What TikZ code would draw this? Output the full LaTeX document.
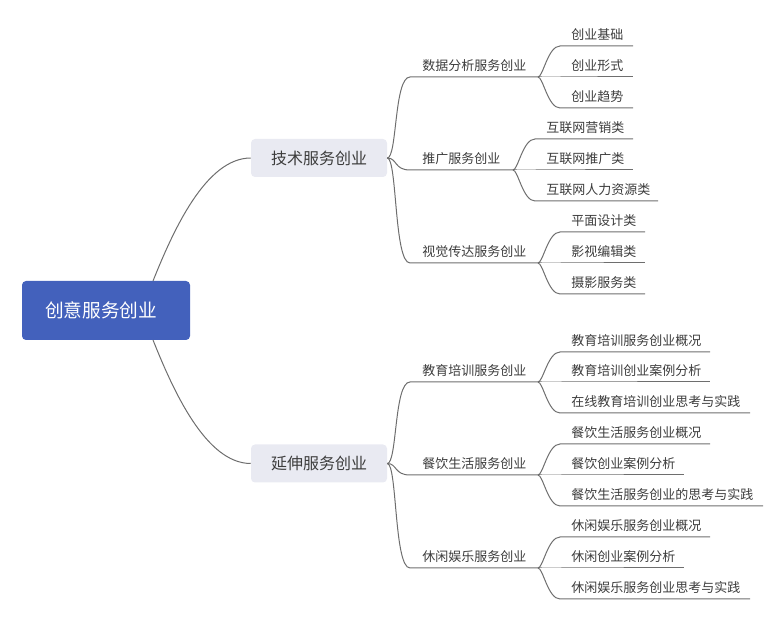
\documentclass[tikz,border=0pt]{standalone}
\usepackage{fontspec}
\newfontfamily\cjk{Noto Sans CJK SC}
\definecolor{linec}{HTML}{6E6E6E}
\definecolor{textc}{HTML}{3C3C3C}
\definecolor{rootc}{HTML}{4361BC}
\definecolor{boxc}{HTML}{E9EAF2}
\tikzset{
  conn/.style={draw=linec, line width=0.75pt},
  mmtext/.style={font=\cjk\fontsize{9.75pt}{11pt}\selectfont, text=textc, inner sep=0pt, anchor=west},
  rootbox/.style={fill=rootc, rounded corners=3pt, minimum width=126pt, minimum height=44.25pt,
    text=white, font=\cjk\fontsize{14pt}{16pt}\selectfont, inner sep=0pt},
  lonebox/.style={fill=boxc, rounded corners=3pt, minimum width=102pt, minimum height=28.5pt,
    text=textc, font=\cjk\fontsize{12pt}{14pt}\selectfont, inner sep=0pt},
}
% #1 name, #2 junction, #3 start x, #4 underline y, #5 end x, #6 text
\newcommand\mmtwo[6]{%
  \coordinate (#1-s) at (#3,#4);
  \coordinate (#1-e) at (#5,#4);
  \node[mmtext] (#1) at (#3+12,#4-11) {#6};
  \draw[conn] (#2) .. controls +(10,0) and +(-16,0) .. (#1-s) -- (#1-e);
}
\newcommand\mmthree[6]{%
  \coordinate (#1-s) at (#3,#4);
  \coordinate (#1-e) at (#5,#4);
  \node[mmtext] (#1) at (#3+11,#4-11) {#6};
  \draw[conn] (#2) .. controls +(5,0) and +(-12,0) .. (#1-s) -- (#1-e);
}
\begin{document}
\begin{tikzpicture}[x=0.75pt,y=-0.75pt]
\useasboundingbox (0,0) rectangle (783,620);
\node[rootbox] (root) at (106,310.5) {\hspace*{-7pt}创意服务创业};
\node[lonebox] (t1) at (319,158) {技术服务创业};
\node[lonebox] (t2) at (319,463.5) {延伸服务创业};
\coordinate (r1) at (153,281);
\coordinate (r2) at (153,340);
\draw[conn] (r1) .. controls +(20,-50) and +(-45,0) .. (t1.west);
\draw[conn] (r2) .. controls +(20,50) and +(-45,0) .. (t2.west);

% level 2 (upper)
\mmtwo{a1}{t1.east}{410}{77}{538}{数据分析服务创业}
\mmtwo{a2}{t1.east}{410}{170}{513}{推广服务创业}
\mmtwo{a3}{t1.east}{410}{263}{538}{视觉传达服务创业}
% level 2 (lower)
\mmtwo{b1}{t2.east}{410}{382}{538}{教育培训服务创业}
\mmtwo{b2}{t2.east}{410}{475}{538}{餐饮生活服务创业}
\mmtwo{b3}{t2.east}{410}{568}{538}{休闲娱乐服务创业}

% level 3
\mmthree{a11}{a1-e}{560}{46}{633}{创业基础}
\mmthree{a12}{a1-e}{560}{77}{633}{创业形式}
\mmthree{a13}{a1-e}{560}{108}{633}{创业趋势}
\mmthree{a21}{a2-e}{535}{139}{633}{互联网营销类}
\mmthree{a22}{a2-e}{535}{170}{633}{互联网推广类}
\mmthree{a23}{a2-e}{535}{201}{658}{互联网人力资源类}
\mmthree{a31}{a3-e}{560}{232}{645}{平面设计类}
\mmthree{a32}{a3-e}{560}{263}{645}{影视编辑类}
\mmthree{a33}{a3-e}{560}{294}{645}{摄影服务类}

\mmthree{b11}{b1-e}{560}{352}{710}{教育培训服务创业概况}
\mmthree{b12}{b1-e}{560}{382}{710}{教育培训创业案例分析}
\mmthree{b13}{b1-e}{560}{413}{750}{在线教育培训创业思考与实践}
\mmthree{b21}{b2-e}{560}{444}{710}{餐饮生活服务创业概况}
\mmthree{b22}{b2-e}{560}{475}{684}{餐饮创业案例分析}
\mmthree{b23}{b2-e}{560}{506}{763}{餐饮生活服务创业的思考与实践}
\mmthree{b31}{b3-e}{560}{537}{710}{休闲娱乐服务创业概况}
\mmthree{b32}{b3-e}{560}{568}{684}{休闲创业案例分析}
\mmthree{b33}{b3-e}{560}{599}{750}{休闲娱乐服务创业思考与实践}
\end{tikzpicture}
\end{document}
